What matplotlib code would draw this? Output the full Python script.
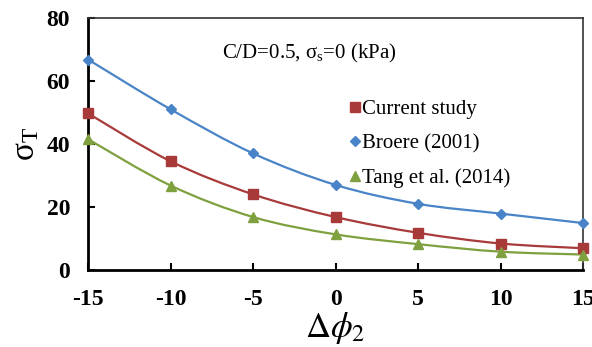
import numpy as np
import matplotlib
matplotlib.use("Agg")
import matplotlib.pyplot as plt
from matplotlib.path import Path
from matplotlib.patches import PathPatch

plt.rcParams.update({'font.family': 'serif',
                     'font.serif': ['Liberation Serif', 'DejaVu Serif'],
                     'mathtext.fontset': 'stix',
                     'axes.unicode_minus': False})

# Data
dphi = [-15, -10, -5, 0, 5, 10, 15]
current = [49.7, 34.5, 24.0, 16.8, 11.8, 8.4, 6.9]
broere = [66.8, 51.0, 37.0, 27.0, 21.0, 17.9, 14.9]
tang = [41.5, 26.8, 16.8, 11.3, 8.2, 5.8, 4.9]

labels = ["Current study", "Broere (2001)", "Tang et al. (2014)"]
colors = ["#A83A3A", "#4A84C8", "#7FA03E"]
markers = ["s", "D", "^"]
msizes = [7, 5.5, 7.5]


def smooth_path(x, y):
    # Excel-like smoothed line as cubic Bezier segments through the points
    x = np.asarray(x, float)
    y = np.asarray(y, float)
    verts = [(x[0], y[0])]
    codes = [Path.MOVETO]
    n = len(x)
    for i in range(n - 1):
        i0 = max(i - 1, 0)
        i3 = min(i + 2, n - 1)
        c1 = (x[i] + (x[i + 1] - x[i0]) / 6, y[i] + (y[i + 1] - y[i0]) / 6)
        c2 = (x[i + 1] - (x[i3] - x[i]) / 6, y[i + 1] - (y[i3] - y[i]) / 6)
        verts += [c1, c2, (x[i + 1], y[i + 1])]
        codes += [Path.CURVE4] * 3
    return Path(verts, codes)


fig = plt.figure(figsize=(5.92, 3.47), dpi=100)
ax = fig.add_axes([0.149, 0.222, 0.836, 0.726])

handles = []
for ys, lab, c, m, ms in zip([current, broere, tang], labels, colors, markers, msizes):
    ax.add_patch(PathPatch(smooth_path(dphi, ys), facecolor='none',
                           edgecolor=c, lw=1.6, zorder=2))
    h, = ax.plot(dphi, ys, ls='none', marker=m, ms=ms, color=c,
                 mec=c, zorder=3, clip_on=False, label=lab)
    handles.append(h)

ax.set_xlim(-15, 15)
ax.set_ylim(0, 80)
ax.set_xticks([-15, -10, -5, 0, 5, 10, 15])
ax.set_yticks([0, 20, 40, 60, 80])
ax.tick_params(direction='in', length=5, width=1.5, labelsize=17)
ax.tick_params(axis='y', pad=13)
ax.tick_params(axis='x', pad=14)
for lab in ax.get_xticklabels() + ax.get_yticklabels():
    lab.set_fontweight('bold')
ax.tick_params(top=False, right=False)
ax.spines['left'].set_linewidth(2)
ax.spines['bottom'].set_linewidth(2)
ax.spines['top'].set_linewidth(1.2)
ax.spines['right'].set_linewidth(1.2)
ax.spines['top'].set_color('#333333')
ax.spines['right'].set_color('#333333')

ax.set_ylabel(r'$\mathregular{σ_T}$', fontsize=24, labelpad=4)
ax.set_xlabel(r'$\Delta\phi_2$', fontsize=25, labelpad=0)

ax.text(0.27, 0.84, r'C/D=0.5, $\mathregular{σ_s}$=0 (kPa)', transform=ax.transAxes,
        fontsize=15)

ax.legend(handles=handles, loc='upper left', bbox_to_anchor=(0.51, 0.71),
          frameon=False, fontsize=15, handlelength=0.6, handletextpad=0.05,
          labelspacing=0.72, borderaxespad=0)

plt.savefig('out.png', dpi=100)
